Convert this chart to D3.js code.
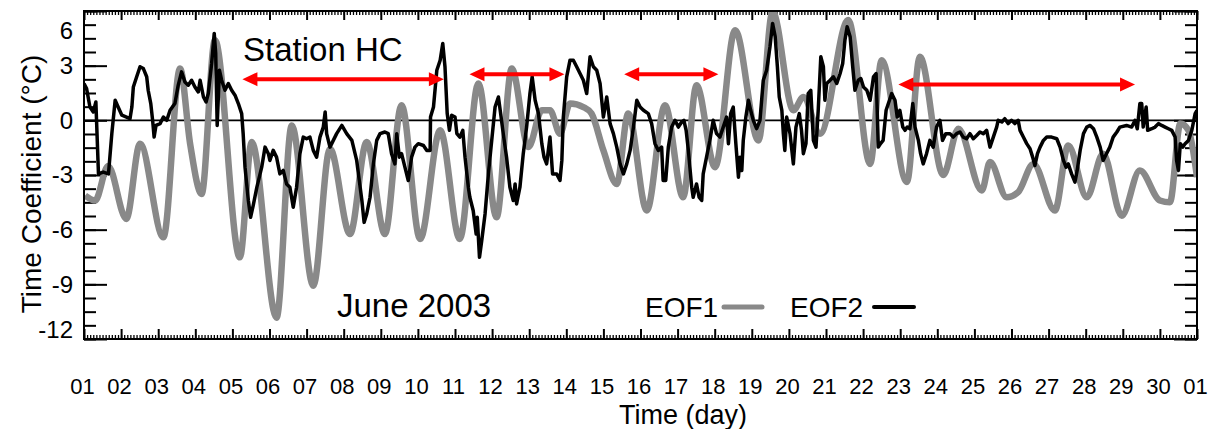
<!DOCTYPE html>
<html>
<head>
<meta charset="utf-8">
<script src="https://cdn.jsdelivr.net/npm/d3@7"></script>
<style>
  body { margin: 0; background: #fff; }
  text { font-family: "Liberation Sans", Arial, Helvetica, sans-serif; fill: #000; }
</style>
</head>
<body>
<div id="chart"></div>
<script>
// tick labels
var dayLabels = ["01","02","03","04","05","06","07","08","09","10","11","12","13","14","15",
                 "16","17","18","19","20","21","22","23","24","25","26","27","28","29","30","01"];
var yTicks = [-12, -9, -6, -3, 0, 3, 6];

// EOF1 (grey), day since 1 June 00:00 / time coefficient
var eof1Day = [0.03,0.30,0.65,1.14,1.51,2.14,2.59,2.86,3.17,3.53,4.20,4.52,5.19,5.60,6.18,6.63,7.17,7.62,
  8.11,8.56,9.06,9.60,10.13,10.63,11.12,11.53,11.98,12.34,12.56,12.83,13.10,13.46,13.68,14.00,14.36,14.67,
  15.17,15.66,16.15,16.51,17.01,17.55,18.18,18.56,19.12,19.39,19.84,20.60,21.19,21.50,22.18,22.53,23.16,
  23.57,24.20,24.42,24.87,25.18,25.59,26.17,26.53,27.03,27.47,27.97,28.46,29.00,29.27,29.55,29.77,30.00];
var eof1Val = [-4.13,-4.40,-2.50,-5.41,-1.28,-6.42,2.84,-1.28,-4.04,4.40,-7.52,-1.19,-10.83,-0.28,-9.08,-1.56,-6.24,-1.19,
  -6.24,0.83,-6.51,-0.55,-6.51,2.02,-5.32,2.84,-1.47,0.55,0.55,-0.73,0.92,0.73,0.37,-1.65,-3.49,0.37,
  -4.95,0.83,-4.22,1.93,-2.57,4.95,-1.10,5.96,0.55,1.28,-0.73,5.50,-2.39,3.30,-3.39,3.49,-3.00,
  -0.46,-3.85,-2.29,-4.22,-3.94,-2.39,-4.95,-1.38,-4.22,-1.83,-5.23,-2.75,-4.40,-4.50,-0.18,-0.55,-3.12];

// EOF2 (black)
var eof2Day = [0.00,0.07,0.16,0.25,0.32,0.39,0.52,0.66,0.75,0.84,0.92,1.02,1.24,1.29,1.33,1.42,1.51,1.60,1.69,1.73,
  1.80,1.85,1.89,1.94,2.05,2.14,2.23,2.32,2.45,2.54,2.63,2.72,2.81,2.90,2.99,3.08,3.13,3.22,3.29,3.35,
  3.44,3.51,3.55,3.59,3.65,3.71,3.80,3.89,3.98,4.07,4.16,4.25,4.29,4.34,4.43,4.49,4.56,4.66,4.79,4.88,
  4.97,5.01,5.10,5.19,5.28,5.37,5.46,5.55,5.64,5.73,5.82,5.91,6.00,6.09,6.18,6.27,6.36,6.45,6.50,6.54,
  6.63,6.72,6.81,6.95,7.08,7.22,7.35,7.49,7.55,7.62,7.71,7.80,7.89,7.98,8.11,8.20,8.29,8.38,8.43,8.50,
  8.56,8.65,8.74,8.83,8.92,9.01,9.15,9.24,9.33,9.34,9.42,9.51,9.60,9.67,9.73,9.79,9.85,9.91,10.00,10.05,
  10.13,10.21,10.27,10.36,10.40,10.49,10.57,10.60,10.66,10.72,10.81,10.90,10.99,11.08,11.17,11.23,11.30,11.39,11.48,11.57,
  11.62,11.66,11.75,11.84,11.93,12.02,12.08,12.16,12.25,12.34,12.40,12.47,12.56,12.63,12.74,12.83,12.88,12.92,13.01,13.10,
  13.19,13.28,13.37,13.46,13.55,13.64,13.73,13.82,13.91,14.00,14.09,14.18,14.27,14.36,14.45,14.54,14.63,14.72,14.81,14.90,
  14.99,15.08,15.21,15.30,15.39,15.48,15.57,15.61,15.68,15.75,15.84,15.93,16.02,16.11,16.17,16.23,16.29,16.38,16.42,16.51,
  16.58,16.65,16.69,16.78,16.87,16.96,17.05,17.14,17.23,17.32,17.37,17.43,17.50,17.57,17.64,17.68,17.73,17.77,17.84,17.91,
  17.97,18.04,18.13,18.22,18.31,18.40,18.49,18.56,18.63,18.69,18.74,18.81,18.85,18.89,18.94,19.03,19.12,19.19,19.28,19.34,
  19.39,19.46,19.52,19.59,19.66,19.73,19.79,19.86,19.93,19.97,20.02,20.11,20.20,20.29,20.38,20.45,20.51,20.57,20.65,20.72,
  20.78,20.87,20.94,21.01,21.10,21.19,21.28,21.35,21.41,21.47,21.54,21.62,21.71,21.77,21.86,21.92,21.99,22.07,22.13,22.19,
  22.26,22.34,22.40,22.49,22.55,22.62,22.71,22.80,22.89,22.98,23.07,23.14,23.23,23.34,23.43,23.52,23.61,23.70,23.79,23.88,
  23.97,24.06,24.15,24.24,24.33,24.42,24.51,24.60,24.64,24.74,24.82,24.91,25.00,25.09,25.18,25.23,25.32,25.41,25.50,25.57,
  25.63,25.70,25.77,25.86,25.95,26.08,26.22,26.31,26.40,26.47,26.53,26.62,26.71,26.77,26.85,26.94,27.03,27.12,27.21,27.30,
  27.39,27.47,27.56,27.65,27.74,27.84,27.92,28.10,28.24,28.33,28.39,28.46,28.51,28.55,28.63,28.67,28.78,28.87,28.96,29.05,
  29.14,29.23,29.32,29.41,29.45,29.50,29.55,29.62,29.68,29.77,29.86,29.95,30.00];
var eof2Val = [2.02,1.74,0.73,0.46,1.01,-2.94,-2.84,-2.94,-0.73,1.10,0.73,0.28,0.09,0.73,1.83,2.39,2.94,2.84,2.39,1.65,
  0.92,0,-0.92,-0.28,-0.18,0.18,0,0.55,0.92,1.93,2.66,2.11,1.93,2.20,1.83,1.56,2.20,1.28,1.01,1.47,
  3.12,4.77,3.67,-0.28,2.75,2.20,1.65,2.02,1.65,1.38,0.92,0.37,-0.73,-2.57,-4.40,-5.32,-4.68,-3.67,-2.57,-1.47,
  -1.83,-2.20,-1.65,-2.02,-2.94,-2.75,-3.49,-3.67,-4.77,-3.67,-1.83,-0.92,-1.01,-0.92,-1.65,-2.02,-0.92,-0.37,0.46,-0.73,
  -1.47,-1.10,-0.73,-0.28,-0.73,-1.10,-2.20,-4.40,-5.60,-5.14,-4.22,-2.39,-1.10,-0.73,-0.64,-0.73,-1.83,-2.39,-0.73,-2.02,
  -1.83,-2.57,-3.30,-2.02,-1.47,-1.28,-1.38,-1.65,-1.65,0.18,0.73,2.75,3.30,4.22,2.94,0.37,-0.55,0.28,0.18,-0.73,
  -0.92,-0.55,-2.02,-3.67,-4.22,-4.95,-6.24,-5.32,-7.52,-6.61,-5.14,-2.94,-1.10,0.73,1.28,0.37,-0.73,-2.02,-3.67,-4.40,
  -3.49,-4.59,-3.67,-1.83,-0.37,1.47,2.39,1.10,0.37,-1.28,-2.02,-2.39,-0.92,-2.94,-2.94,-3.30,-2.20,0.18,2.39,3.30,
  3.30,2.94,2.57,2.20,1.47,3.49,2.94,2.75,2.02,0.18,1.28,-0.18,-0.73,-1.47,-2.39,-2.94,-2.39,-1.65,-0.37,1.10,
  0.73,0.55,0.37,-0.18,-1.28,-1.65,-1.47,-3.30,-3.30,-1.47,-0.37,0,-0.37,-0.09,0,-0.55,-1.65,-3.67,-4.22,-3.49,
  -4.22,-4.40,-2.94,-2.02,-1.10,0,-0.73,-0.92,-0.37,0.18,-1.28,0.37,0.73,-1.28,-3.12,-2.02,-2.75,-1.10,0.18,1.10,
  0.55,0,-0.46,0,2.20,2.75,4.04,5.32,4.59,2.94,1.28,0.55,-0.73,-1.65,0.18,-0.73,-2.39,-0.37,0.37,-0.55,
  -1.83,-1.28,1.47,1.65,-1.10,-1.47,0.55,3.49,2.94,1.10,2.02,2.20,2.39,2.02,2.57,3.12,4.40,5.14,4.59,2.94,
  1.65,2.20,2.29,1.83,1.65,1.10,2.39,2.57,-1.47,-1.28,-1.10,0.55,1.10,1.47,1.10,0.18,0.55,-0.37,-0.55,-0.37,
  -0.46,0.92,-0.37,-1.10,-1.83,-2.39,-1.83,-1.10,-1.47,-0.37,0,-1.10,-0.73,-0.73,-0.92,-0.73,-0.64,-0.92,-1.01,-0.73,
  -1.01,-0.83,-0.64,-0.73,-0.55,-1.47,-0.92,-0.37,0,-0.09,0.09,-0.18,0,-0.18,0,-0.55,-0.92,-1.28,-1.56,-2.02,
  -2.48,-1.83,-1.47,-1.10,-0.92,-0.92,-1.01,-1.47,-2.20,-2.57,-2.39,-2.94,-3.39,-2.75,-1.65,-0.73,-0.37,-0.28,-0.46,-0.92,
  -1.47,-2.20,-1.83,-1.47,-0.92,-0.64,-0.37,-0.28,-0.37,0,-0.46,0.92,0.92,-0.37,0.73,-0.55,-0.46,-0.37,-0.18,-0.28,
  -0.37,-0.46,-0.55,-0.92,-2.20,-2.75,-1.28,-1.47,-1.28,-1.10,-0.55,0.37,0.55];

// red arrows: start day, end day, level
var arrowStart = [4.27, 10.39, 14.56, 21.95];
var arrowEnd   = [9.70, 12.95, 17.10, 28.33];
var arrowLevel = [2.26, 2.53, 2.53, 1.96];

// set the dimensions and margins of the graph
var margin = {top: 11, right: 14, bottom: 90, left: 84},
    width = 1211 - margin.left - margin.right,
    height = 429 - margin.top - margin.bottom;

var root = d3.select("#chart")
  .append("svg")
    .attr("width", width + margin.left + margin.right)
    .attr("height", height + margin.top + margin.bottom);
var svg = root.append("g")
    .attr("transform", "translate(" + margin.left + "," + margin.top + ")");

var x = d3.scaleLinear().domain([0, 30]).range([0, width]);
var y = d3.scaleLinear().domain([-12, 6]).range([height, 0]);

var minorX = d3.range(0, 361).map(function(i) { return i / 12; });
var minorY = d3.range(0, 25).map(function(i) { return -12 + i * 0.75; });

function styleAxis(g, w) {
  g.select(".domain").remove();
  g.selectAll(".tick line").attr("stroke", "#000").attr("stroke-width", w);
}

// bottom axis
svg.append("g")
  .attr("transform", "translate(0," + height + ")")
  .call(d3.axisBottom(x).tickValues(minorX).tickSize(-4).tickSizeOuter(0).tickFormat(""))
  .call(styleAxis, 1.3);
var xAxis = svg.append("g")
  .attr("transform", "translate(0," + height + ")")
  .call(d3.axisBottom(x).tickValues(d3.range(0, 31)).tickSize(-10).tickSizeOuter(0)
    .tickPadding(39).tickFormat(function(d, i) { return dayLabels[i]; }))
  .call(styleAxis, 2);
xAxis.selectAll(".tick text")
  .attr("font-size", 22).attr("font-family", "Liberation Sans, Arial, sans-serif").attr("dx", -2);

// top axis
svg.append("g")
  .call(d3.axisTop(x).tickValues(minorX).tickSize(-4).tickSizeOuter(0).tickFormat(""))
  .call(styleAxis, 1.3);
svg.append("g")
  .call(d3.axisTop(x).tickValues(d3.range(0, 31)).tickSize(-9).tickSizeOuter(0).tickFormat(""))
  .call(styleAxis, 2);

// left axis
svg.append("g")
  .call(d3.axisLeft(y).tickValues(minorY).tickSize(-12).tickSizeOuter(0).tickFormat(""))
  .call(styleAxis, 2);
var yAxis = svg.append("g")
  .call(d3.axisLeft(y).tickValues(yTicks).tickSize(-23).tickSizeOuter(0).tickPadding(11)
    .tickFormat(function(d) { return String(d); }))
  .call(styleAxis, 2);
yAxis.selectAll(".tick text")
  .attr("font-size", 24).attr("font-family", "Liberation Sans, Arial, sans-serif")
  .attr("dy", function(d) { return d === 6 ? "1.15em" : d === -12 ? "-0.05em" : "0.32em"; });

// right axis
svg.append("g")
  .attr("transform", "translate(" + width + ",0)")
  .call(d3.axisRight(y).tickValues(minorY).tickSize(-12).tickSizeOuter(0).tickFormat(""))
  .call(styleAxis, 2);
svg.append("g")
  .attr("transform", "translate(" + width + ",0)")
  .call(d3.axisRight(y).tickValues(yTicks).tickSize(-23).tickSizeOuter(0).tickFormat(""))
  .call(styleAxis, 2);

// zero line
svg.append("line")
  .attr("x1", 0).attr("x2", width)
  .attr("y1", y(0)).attr("y2", y(0))
  .attr("stroke", "#000").attr("stroke-width", 1.6);

// clip
svg.append("clipPath").attr("id", "clip")
  .append("rect").attr("width", width).attr("height", height);
var plot = svg.append("g").attr("clip-path", "url(#clip)");

var eof1 = eof1Day.map(function(d, i) { return [d, eof1Val[i]]; });
var eof2 = eof2Day.map(function(d, i) { return [d, eof2Val[i]]; });

plot.append("path")
  .datum(eof1)
  .attr("fill", "none")
  .attr("stroke", "#898989")
  .attr("stroke-width", 6.5)
  .attr("stroke-linejoin", "round")
  .attr("d", d3.line().curve(d3.curveMonotoneX)
    .x(function(d) { return x(d[0]); })
    .y(function(d) { return y(d[1]); }));

plot.append("path")
  .datum(eof2)
  .attr("fill", "none")
  .attr("stroke", "#000")
  .attr("stroke-width", 3.5)
  .attr("stroke-linejoin", "round")
  .attr("d", d3.line()
    .x(function(d) { return x(d[0]); })
    .y(function(d) { return y(d[1]); }));

// frame
svg.append("rect")
  .attr("width", width).attr("height", height)
  .attr("fill", "none").attr("stroke", "#000").attr("stroke-width", 2);

// red arrows
arrowStart.forEach(function(s, i) {
  var x1 = x(s), x2 = x(arrowEnd[i]), yy = y(arrowLevel[i]);
  svg.append("line")
    .attr("x1", x1 + 10).attr("x2", x2 - 10)
    .attr("y1", yy).attr("y2", yy)
    .attr("stroke", "#ff0000").attr("stroke-width", 4);
  svg.append("path")
    .attr("fill", "#ff0000")
    .attr("d", "M" + x1 + "," + yy + "L" + (x1 + 15) + "," + (yy - 7) + "L" + (x1 + 15) + "," + (yy + 7) + "Z"
      + "M" + x2 + "," + yy + "L" + (x2 - 15) + "," + (yy - 7) + "L" + (x2 - 15) + "," + (yy + 7) + "Z");
});

// annotations (page coords)
root.append("text").attr("x", 243).attr("y", 61).attr("font-size", 33).text("Station HC");
root.append("text").attr("x", 337).attr("y", 317).attr("font-size", 33).text("June 2003");

// legend
root.append("text").attr("x", 645).attr("y", 317).attr("font-size", 28).text("EOF1");
root.append("line").attr("x1", 724).attr("x2", 762).attr("y1", 307).attr("y2", 307)
  .attr("stroke", "#898989").attr("stroke-width", 5).attr("stroke-linecap", "round");
root.append("text").attr("x", 790).attr("y", 317).attr("font-size", 28).text("EOF2");
root.append("line").attr("x1", 874).attr("x2", 914).attr("y1", 307).attr("y2", 307)
  .attr("stroke", "#000").attr("stroke-width", 4).attr("stroke-linecap", "round");

// axis titles
root.append("text")
  .attr("x", 683).attr("y", 423.5)
  .attr("text-anchor", "middle").attr("font-size", 27)
  .text("Time (day)");
root.append("text")
  .attr("transform", "translate(41,184) rotate(-90)")
  .attr("text-anchor", "middle").attr("font-size", 28)
  .text("Time Coefficient (°C)");
</script>
</body>
</html>
